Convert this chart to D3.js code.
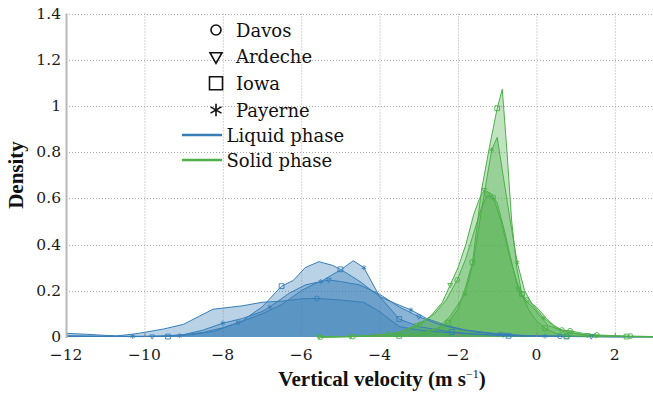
<!DOCTYPE html>
<html><head><meta charset="utf-8">
<script src="https://cdn.jsdelivr.net/npm/d3@7"></script>
<style>body{margin:0;background:#fff}svg{display:block}</style>
</head><body><svg id="c" width="653" height="396"></svg>
<script>
// ---------- data ----------
const xTicks = [-12,-10,-8,-6,-4,-2,0,2];
const xTickLabels = ["\u221212","\u221210","\u22128","\u22126","\u22124","\u22122","0","2"];
const yTicks = [0,0.2,0.4,0.6,0.8,1,1.2,1.4];
const yTickLabels = ["0","0.2","0.4","0.6","0.8","1","1.2","1.4"];
const sites = ["Davos","Ardeche","Iowa","Payerne"];
const phases = ["Liquid phase","Solid phase"];

// Liquid phase
const liqDavosX = [-12,-11.5,-11,-10.7,-10.3,-10,-9.5,-9,-8.6,-8.25,-7.5,-7,-6.5,-6,-5.6,-5,-4.4,-4,-3.5,-3,-2.5,-2,-1.5,-1,-0.5,0,0.6,1,2,3];
const liqDavosY = [0.016,0.012,0.007,0.005,0.012,0.02,0.035,0.055,0.09,0.12,0.135,0.15,0.155,0.165,0.167,0.16,0.15,0.11,0.045,0.03,0.022,0.016,0.012,0.008,0.005,0.004,0.003,0.003,0.002,0.002];
const liqDavosM = [14,26];
const liqArdecheX = [-12,-11,-10.5,-9.8,-9,-8.5,-8,-7.6,-7,-6.5,-6,-5.6,-5.3,-5,-4.5,-4,-3.5,-3,-2.5,-2,-1.5,-0.85,0,1,1.4,2,3];
const liqArdecheY = [0.005,0.003,0.002,0.002,0.01,0.02,0.04,0.062,0.1,0.14,0.2,0.235,0.247,0.24,0.225,0.185,0.13,0.088,0.055,0.035,0.02,0.01,0.005,0.002,0.002,0.001,0.001];
const liqArdecheM = [3,7,12,17,21,24];
const liqIowaX = [-12,-11,-10,-9.4,-8.8,-8.2,-7.5,-7,-6.5,-6.2,-5.9,-5.55,-5.2,-5.0,-4.5,-4,-3.5,-3,-2.5,-2.16,-1.5,-0.71,0,0.77,2,3];
const liqIowaY = [0.003,0.002,0.002,0.002,0.01,0.025,0.07,0.13,0.22,0.245,0.3,0.326,0.31,0.293,0.24,0.175,0.078,0.045,0.03,0.022,0.012,0.005,0.003,0.002,0.001,0.001];
const liqIowaM = [3,8,13,16,19,21,23];
const liqPayerneX = [-12,-11,-10.3,-9.6,-9.1,-8.5,-8,-7.5,-7,-6.8,-6.3,-5.9,-5.5,-5.0,-4.67,-4.4,-4,-3.6,-3.2,-2.8,-2.3,-1.8,-1.3,-0.93,-0.4,0.22,1,2,3];
const liqPayerneY = [0.004,0.003,0.003,0.004,0.006,0.03,0.06,0.08,0.11,0.13,0.19,0.225,0.24,0.29,0.33,0.30,0.175,0.145,0.117,0.08,0.05,0.03,0.02,0.013,0.007,0.004,0.002,0.001,0.001];
const liqPayerneM = [2,4,6,9,12,15,18,23,25];

// Solid phase
const solDavosX = [-5.5,-4.68,-3.8,-3.4,-2.97,-2.6,-2.3,-2.02,-1.8,-1.6,-1.4,-1.25,-1.1,-0.9,-0.7,-0.5,-0.37,-0.25,0.0,0.26,0.45,0.65,0.86,1.2,1.54,2.0,2.4,3];
const solDavosY = [0,0.002,0.013,0.025,0.055,0.1,0.16,0.247,0.34,0.45,0.56,0.615,0.605,0.5,0.36,0.24,0.185,0.16,0.13,0.08,0.05,0.03,0.027,0.015,0.009,0.006,0.004,0.002];
const solDavosM = [0,1,2,4,7,11,12,16,17,21,22,24,26];
const solArdecheX = [-5.55,-4.75,-3.9,-3.5,-3.05,-2.7,-2.4,-2.2,-2.0,-1.8,-1.6,-1.45,-1.33,-1.15,-1.0,-0.8,-0.6,-0.46,-0.3,-0.1,0.1,0.3,0.6,0.9,1.3,1.8,2.3,3];
const solArdecheY = [0,0.002,0.01,0.02,0.052,0.09,0.15,0.225,0.3,0.4,0.53,0.6,0.636,0.62,0.58,0.45,0.3,0.206,0.16,0.13,0.09,0.05,0.03,0.018,0.008,0.004,0.002,0.001];
const solArdecheM = [0,1,4,7,12,17,23,24];
const solIowaX = [-5.5,-4.5,-3.5,-3.0,-2.6,-2.25,-2.0,-1.8,-1.63,-1.4,-1.2,-1.0,-0.87,-0.75,-0.63,-0.5,-0.37,-0.2,0,0.22,0.5,0.77,1.2,1.6,2.0,2.3,3];
const solIowaY = [0,0.002,0.005,0.012,0.03,0.062,0.12,0.22,0.323,0.636,0.82,0.99,1.072,0.8,0.5,0.3,0.186,0.12,0.07,0.038,0.015,0.005,0.003,0.002,0.002,0.002,0.001];
const solIowaM = [2,5,8,11,16,19,21,25];
const solPayerneX = [-5.5,-4.7,-3.9,-3.5,-3.0,-2.5,-2.2,-1.82,-1.6,-1.4,-1.14,-1.0,-0.85,-0.67,-0.49,-0.3,-0.1,0.19,0.5,0.8,1.2,1.5,2,2.5,3];
const solPayerneY = [0,0.002,0.005,0.008,0.015,0.04,0.09,0.186,0.33,0.55,0.81,0.864,0.7,0.506,0.323,0.2,0.14,0.081,0.04,0.02,0.008,0.005,0.003,0.002,0.001];
const solPayerneM = [7,10,14,17,21];

// ---------- build ----------
const series = [
  {phase:0, site:0, x:liqDavosX, y:liqDavosY, m:liqDavosM},
  {phase:0, site:1, x:liqArdecheX, y:liqArdecheY, m:liqArdecheM},
  {phase:0, site:2, x:liqIowaX, y:liqIowaY, m:liqIowaM},
  {phase:0, site:3, x:liqPayerneX, y:liqPayerneY, m:liqPayerneM},
  {phase:1, site:0, x:solDavosX, y:solDavosY, m:solDavosM},
  {phase:1, site:1, x:solArdecheX, y:solArdecheY, m:solArdecheM},
  {phase:1, site:2, x:solIowaX, y:solIowaY, m:solIowaM},
  {phase:1, site:3, x:solPayerneX, y:solPayerneY, m:solPayerneM}
];
const colors = ["#377eb8","#4daf4a"];
const FONT = "'DejaVu Serif', serif";
const BFONT = "'Liberation Serif', 'DejaVu Serif', serif";

const svg = d3.select("#c");
const X = d3.scaleLinear().domain([-12,3]).range([66,654]);
const Y = d3.scaleLinear().domain([0,1.4]).range([337,13.5]);

// grid
const grid = svg.append("g").attr("stroke","#aaaaaa").attr("stroke-width",1).attr("stroke-dasharray","1,2");
grid.selectAll("line.v").data(xTicks.filter(d=>d>-12)).enter().append("line")
  .attr("x1",d=>X(d)+0.5).attr("x2",d=>X(d)+0.5).attr("y1",Y(1.4)).attr("y2",Y(0));
grid.selectAll("line.h").data(yTicks.filter(d=>d>0)).enter().append("line")
  .attr("x1",X(-12)).attr("x2",653).attr("y1",d=>Math.round(Y(d))+0.5).attr("y2",d=>Math.round(Y(d))+0.5);

// areas
const area = d3.area().x(d=>X(d[0])).y0(Y(0)).y1(d=>Y(d[1]));
const line = d3.line().x(d=>X(d[0])).y(d=>Y(d[1]));
const pts = s => s.x.map((v,i)=>[v,s.y[i]]);
svg.append("g").selectAll("path").data(series).enter().append("path")
  .attr("d",s=>area(pts(s))).attr("fill",s=>colors[s.phase]).attr("fill-opacity",0.35).attr("stroke","none");
svg.append("g").selectAll("path").data(series).enter().append("path")
  .attr("d",s=>line(pts(s))).attr("fill","none").attr("stroke",s=>colors[s.phase]).attr("stroke-width",1);

// marker shapes
function markerPath(site, r){
  if(site===0){ return d3.symbol(d3.symbolCircle, Math.PI*r*r)(); }
  if(site===1){ const h=r*1.1; return `M${-r},${-h*0.6}L${r},${-h*0.6}L0,${h*1.0}Z`; }
  if(site===2){ return `M${-r},${-r}H${r}V${r}H${-r}Z`; }
  const a=r*1.05, t=a/2, u=t*Math.sqrt(3);
  return `M0,${-a}V${a}M${-u},${-t}L${u},${t}M${-u},${t}L${u},${-t}`;
}
const mk = svg.append("g");
series.forEach(s=>{
  s.m.forEach(i=>{
    mk.append("path").attr("transform",`translate(${X(s.x[i])},${Y(s.y[i])})`)
      .attr("d",markerPath(s.site,2.4)).attr("fill","none")
      .attr("stroke",colors[s.phase]).attr("stroke-width",0.9);
  });
});

// axis left line
svg.append("line").attr("x1",66.5).attr("x2",66.5).attr("y1",Y(1.4)).attr("y2",Y(0)+1)
  .attr("stroke","#b8b8b8").attr("stroke-width",2);
// bottom ticks
svg.append("g").selectAll("line").data(xTicks.filter(d=>d>-12)).enter().append("line")
  .attr("x1",d=>X(d)+0.5).attr("x2",d=>X(d)+0.5).attr("y1",Y(0)).attr("y2",Y(0)-4)
  .attr("stroke","#888").attr("stroke-width",1);

// tick labels
svg.append("g").selectAll("text").data(xTicks).enter().append("text")
  .attr("font-family",FONT)
  .attr("x",d=>X(d)).attr("y",359.5).attr("text-anchor","middle")
  .attr("font-size",15.5).attr("fill","#1a1a1a").text((d,i)=>xTickLabels[i]);
svg.append("g").selectAll("text").data(yTicks).enter().append("text")
  .attr("font-family",FONT)
  .attr("x",61).attr("y",d=>Y(d)-0.5).attr("dy","0.36em").attr("text-anchor","end")
  .attr("font-size",15.5).attr("fill","#1a1a1a").text((d,i)=>yTickLabels[i]);

// axis titles
const xt = svg.append("text").attr("font-family",BFONT).attr("x",382).attr("y",386).attr("text-anchor","middle")
  .attr("font-size",21).attr("font-weight","bold").attr("fill","#111");
xt.append("tspan").text("Vertical velocity (m s");
xt.append("tspan").attr("font-size",12).attr("dy",-8).attr("font-weight","normal").text("\u22121");
xt.append("tspan").attr("dy",8).text(")");
svg.append("text").attr("font-family",BFONT).attr("transform","translate(23,175) rotate(-90)").attr("text-anchor","middle")
  .attr("font-size",21).attr("font-weight","bold").attr("fill","#111").text("Density");

// legend
const lg = svg.append("g");
const rowY = [30,56.7,83.3,110];
sites.forEach((s,i)=>{
  const r = i===2 ? 6.5 : (i===0 ? 5 : 6);
  lg.append("path").attr("transform",`translate(216,${rowY[i]})`).attr("d",markerPath(i,r))
    .attr("fill","none").attr("stroke","#111").attr("stroke-width",1.6);
  lg.append("text").attr("font-family",FONT).attr("x",236).attr("y",rowY[i]+6.5).attr("font-size",18).attr("fill","#111").text(s);
});
const phY = [135,160];
phases.forEach((p,i)=>{
  lg.append("line").attr("x1",182).attr("x2",222).attr("y1",phY[i]).attr("y2",phY[i])
    .attr("stroke",colors[i]).attr("stroke-width",2.5);
  lg.append("text").attr("font-family",FONT).attr("x",226.5).attr("y",phY[i]+6.5).attr("font-size",18).attr("fill","#111").text(p);
});
</script></body></html>
